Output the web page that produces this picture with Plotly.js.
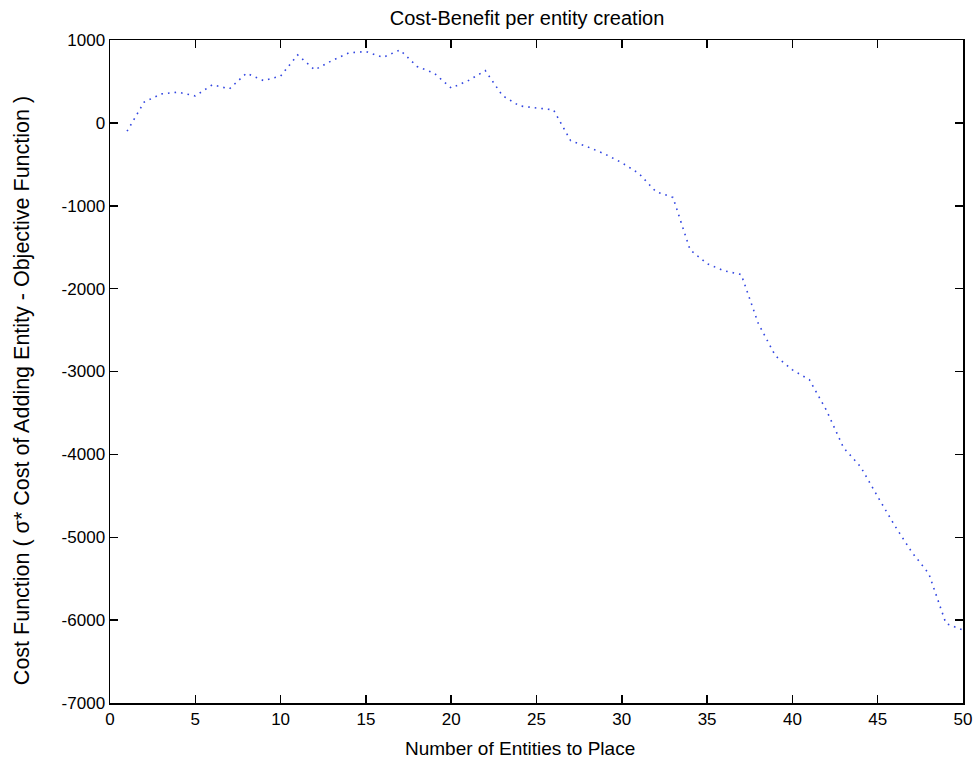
<!DOCTYPE html>
<html>
<head>
<meta charset="utf-8">
<script src="https://cdn.plot.ly/plotly-3.0.1.min.js"></script>
<style>html,body{margin:0;padding:0;background:#fff;}#chart{width:976px;height:761px;}</style>
</head>
<body>
<div id="chart"></div>
<script>
const entities = [1,2,3,4,5,6,7,8,9,10,11,12,13,14,15,16,17,18,19,20,21,22,23,24,25,26,27,28,29,30,31,32,33,34,35,36,37,38,39,40,41,42,43,44,45,46,47,48,49,50];
const costBenefit = [-100,250,350,370,325,460,410,600,510,565,820,640,750,845,860,790,880,680,600,420,510,630,330,205,180,157,-215,-290,-375,-480,-610,-830,-900,-1530,-1700,-1785,-1830,-2420,-2810,-2980,-3100,-3470,-3920,-4150,-4510,-4860,-5180,-5440,-6040,-6120];
const xTicks = [0,5,10,15,20,25,30,35,40,45,50];
const yTicks = [1000,0,-1000,-2000,-3000,-4000,-5000,-6000,-7000];

const fnt = "Liberation Sans Narrow, Arial Narrow, Liberation Sans, Arial, sans-serif";
const trace = {
  x: entities, y: costBenefit, type: 'scatter', mode: 'lines',
  line: {color: 'rgb(50,70,225)', width: 1.6, dash: '1.6px,5px'},
  hoverinfo: 'none'
};
const axisCommon = {
  showline: true, linecolor: '#000', linewidth: 1.5, mirror: 'ticks',
  ticks: 'inside', ticklen: 8, tickwidth: 1.5, tickcolor: '#000',
  showgrid: false, zeroline: false,
  tickfont: {family: fnt, size: 17, color: '#000'}
};
const layout = {
  width: 976, height: 761,
  margin: {l: 110, r: 13, t: 40, b: 58},
  paper_bgcolor: '#fff', plot_bgcolor: '#fff',
  showlegend: false,
  title: {text: 'Cost-Benefit per entity creation', font: {family: fnt, size: 20, color: '#000'}, x: 0.54, xanchor: 'center', y: 0.985, yanchor: 'top'},
  xaxis: Object.assign({}, axisCommon, {
    range: [0, 50], tickmode: 'array', tickvals: xTicks, ticktext: xTicks.map(String)
  }),
  yaxis: Object.assign({}, axisCommon, {
    range: [-7000, 1000], tickmode: 'array', tickvals: yTicks, ticktext: yTicks.map(String)
  }),
  annotations: [{
    text: 'Number of Entities to Place', xref: 'paper', yref: 'paper',
    x: 0.4807, y: -0.068, xanchor: 'center', yanchor: 'middle', showarrow: false,
    font: {family: fnt, size: 19, color: '#000'}
  }, {
    text: 'Cost Function ( σ* Cost of Adding Entity - Objective Function )', xref: 'paper', yref: 'paper',
    x: -0.103, y: 0.4706, xanchor: 'center', yanchor: 'middle', showarrow: false, textangle: -90,
    font: {family: fnt, size: 21.5, color: '#000'}
  }]
};
Plotly.newPlot('chart', [trace], layout, {displayModeBar: false, staticPlot: true});
</script>
</body>
</html>
